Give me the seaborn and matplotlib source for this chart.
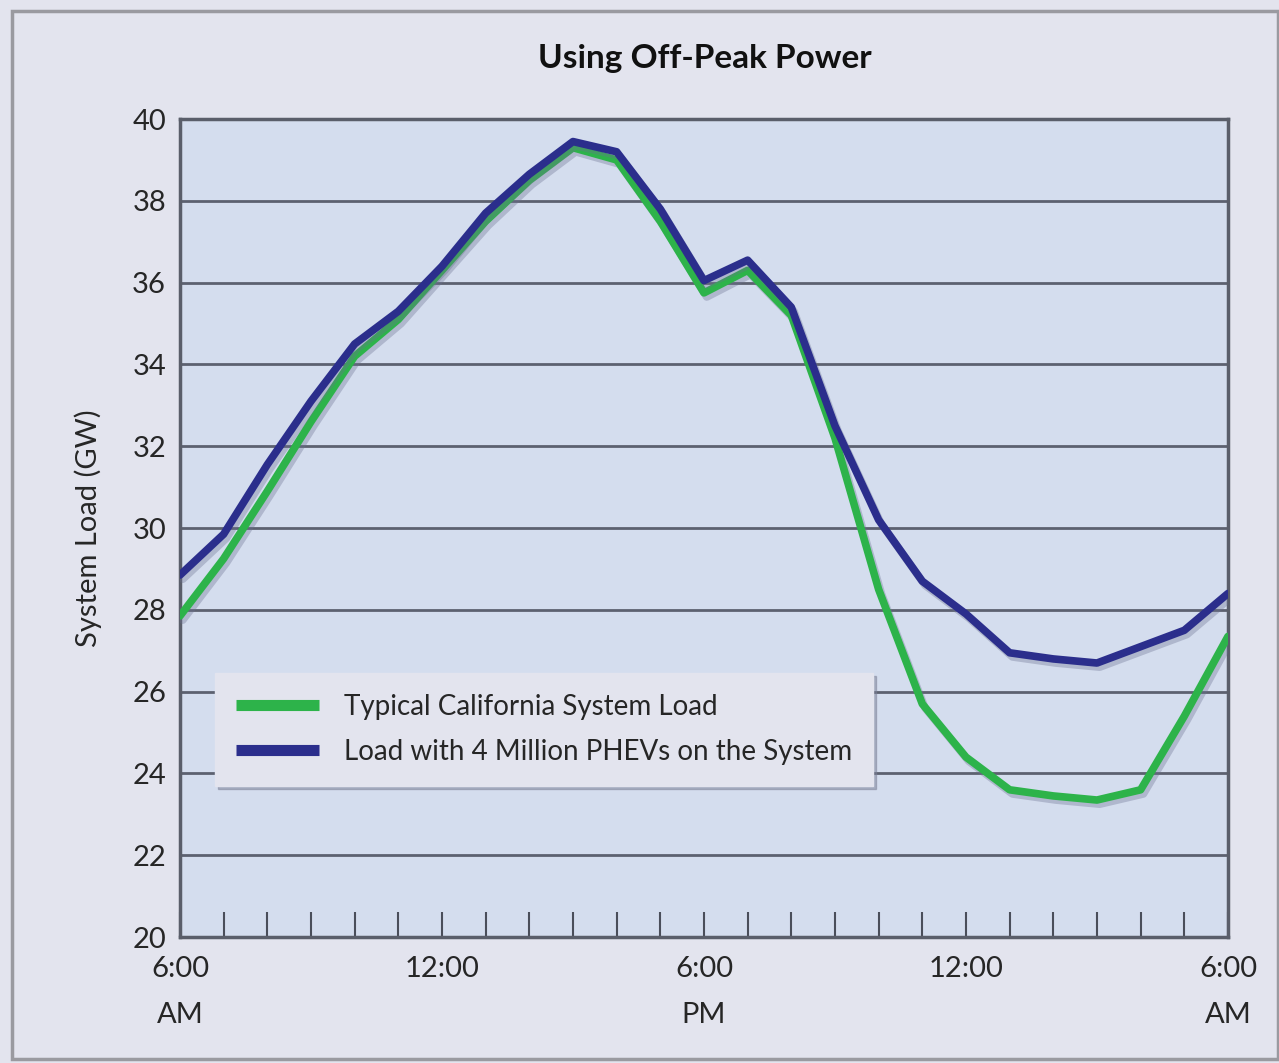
import seaborn as sns
import matplotlib.pyplot as plt
import matplotlib.patheffects as pe
import pandas as pd

# hours after 6:00 AM
hours = list(range(25))

typical_load = [27.85, 29.25, 30.9, 32.6, 34.2, 35.1, 36.3, 37.5, 38.5, 39.3,
                39.0, 37.5, 35.75, 36.3, 35.2, 32.2, 28.5, 25.7, 24.4, 23.6,
                23.45, 23.35, 23.6, 25.4, 27.35]
phev_load = [28.85, 29.85, 31.55, 33.1, 34.5, 35.3, 36.4, 37.7, 38.65, 39.45,
             39.2, 37.8, 36.05, 36.55, 35.4, 32.5, 30.2, 28.7, 27.9, 26.95,
             26.8, 26.7, 27.1, 27.5, 28.4]

series_names = ["Typical California System Load",
                "Load with 4 Million PHEVs on the System"]
tick_labels = {0: "6:00\nAM", 6: "12:00", 12: "6:00\nPM", 18: "12:00", 24: "6:00\nAM"}

colors = {series_names[0]: "#2DB34A", series_names[1]: "#2B2E8C"}

df = pd.concat([
    pd.DataFrame({"hour": hours, "load": typical_load, "series": series_names[0]}),
    pd.DataFrame({"hour": hours, "load": phev_load, "series": series_names[1]}),
])

sns.set_style("white")
plt.rcParams['font.family'] = ['Lato', 'DejaVu Sans']

fig = plt.figure(figsize=(12.79, 10.63), dpi=100, facecolor='#E3E4EE')
ax = fig.add_axes([0.1407, 0.1185, 0.8194, 0.7695])
ax.set_facecolor('#D4DDEE')

# outer frame
fig.patches.append(plt.Rectangle((0.009, 0.004), 0.99, 0.986, transform=fig.transFigure,
                                 fill=False, edgecolor='#9A9AA0', linewidth=2.5))

sns.lineplot(data=df, x='hour', y='load', hue='series', palette=colors,
             linewidth=5.5, ax=ax, legend=True, zorder=3)

for ln in ax.get_lines():
    ln.set_solid_joinstyle('round')
    ln.set_path_effects([pe.SimpleLineShadow(offset=(2, -3), shadow_color='#6A7090', alpha=0.35),
                         pe.Normal()])

ax.set_xlim(0, 24)
ax.set_ylim(20, 40)
ax.set_yticks(range(20, 41, 2))
ax.grid(axis='y', color='#5C6170', linewidth=2, zorder=1)
ax.grid(axis='x', visible=False)
ax.set_axisbelow(True)

ax.set_xticks(hours)
ax.set_xticklabels([tick_labels.get(h, "") for h in hours], linespacing=1.95, va='top')
ax.tick_params(axis='x', direction='in', length=18, width=1.5, color='#4A4E5A',
               labelsize=21, pad=14, bottom=True)
ax.tick_params(axis='y', length=0, labelsize=21, pad=10)

for s in ax.spines.values():
    s.set_color('#5A5E6A')
    s.set_linewidth(2.5)

ax.set_xlabel(None)
ax.set_ylabel("System Load (GW)", fontsize=21, labelpad=22)

leg = ax.legend(loc='upper left', bbox_to_anchor=(0.02, 0.34), fontsize=20,
                facecolor='#E3E4EE', edgecolor='#E3E4EE', framealpha=1, fancybox=False,
                shadow={'color': '#7A7F95', 'alpha': 0.5}, handlelength=3.0,
                handletextpad=0.9, borderpad=0.75, labelspacing=0.7)
for h in leg.get_lines():
    h.set_linewidth(8)
    h.set_solid_capstyle('butt')
    h.set_path_effects([])

fig.text(0.551, 0.945, "Using Off-Peak Power", ha='center', va='center',
         fontsize=24, fontweight='bold', color='#111111')

plt.savefig("out.png", dpi=100, facecolor=fig.get_facecolor())
